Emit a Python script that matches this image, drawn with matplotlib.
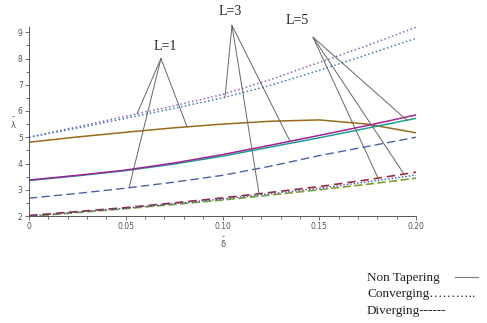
import matplotlib
matplotlib.use("Agg")
import matplotlib.pyplot as plt
import numpy as np
from matplotlib.lines import Line2D
from matplotlib.ticker import MultipleLocator

delta = [0, 0.025, 0.05, 0.075, 0.10, 0.125, 0.15, 0.175, 0.20]

# top dotted pair
lam_purple_dot = [5.0, 5.4, 5.8, 6.2, 6.63, 7.2, 7.85, 8.5, 9.19]
lam_blue_dot = [5.0, 5.35, 5.72, 6.1, 6.5, 6.98, 7.55, 8.15, 8.77]
# brown solid
lam_brown = [4.81, 5.01, 5.19, 5.36, 5.5, 5.61, 5.66, 5.5, 5.17]
# magenta / teal solid
lam_magenta = [3.37, 3.55, 3.75, 4.02, 4.34, 4.7, 5.07, 5.45, 5.85]
lam_teal = [3.35, 3.53, 3.73, 3.98, 4.28, 4.63, 4.98, 5.35, 5.72]
# navy dashed
lam_navy = [2.68, 2.86, 3.06, 3.29, 3.55, 3.9, 4.3, 4.65, 5.0]
# bottom group
lam_red = [2.02, 2.17, 2.32, 2.5, 2.69, 2.9, 3.12, 3.38, 3.67]
lam_blue_low = [2.0, 2.15, 2.3, 2.47, 2.65, 2.85, 3.06, 3.3, 3.56]
lam_green = [1.98, 2.13, 2.28, 2.44, 2.61, 2.8, 3.0, 3.21, 3.44]

xticks = [0, 0.05, 0.10, 0.15, 0.20]
xticklabels = ["0", "0.05", "0.10", "0.15", "0.20"]
yticks = [2, 3, 4, 5, 6, 7, 8, 9]

legend_lines = ["Non Tapering", "Converging\u2026\u2026\u2026..", "Diverging------"]

fig = plt.figure(figsize=(4.87, 3.23), dpi=100)
ax = fig.add_axes([29/487, 107/323, 387/487, 189/323])

ax.plot(delta, lam_purple_dot, color="#8c62c0", ls=(0, (1, 1.6)), lw=1.1)
ax.plot(delta, lam_blue_dot, color="#3f7ab8", ls=(0, (1, 1.6)), lw=1.1)
ax.plot(delta, lam_brown, color="#9a6a1c", lw=1.1)
ax.plot(delta, lam_teal, color="#1f9e8e", lw=1.1)
ax.plot(delta, lam_magenta, color="#a0229a", lw=1.1)
ax.plot(delta, lam_navy, color="#4a62a6", ls=(0, (6, 3)), lw=1.0)
ax.plot(delta, lam_green, color="#7ea030", ls=(0, (5, 2)), lw=1.2)
ax.plot(delta, lam_red, color="#a02a3a", ls=(0, (5, 3)), lw=1.2)
ax.plot(delta, lam_blue_low, color="#2f4fc0", ls=(0, (1, 1.5)), lw=1.0)

ax.set_xlim(0, 0.2)
ax.set_ylim(2, 9.2)
ax.set_xticks(xticks)
ax.set_xticklabels(xticklabels)
ax.set_yticks(yticks)
ax.xaxis.set_minor_locator(MultipleLocator(0.01))
ax.yaxis.set_minor_locator(MultipleLocator(0.5))
ax.tick_params(which="both", direction="out", labelsize=5.5, labelcolor="#555555",
               color="#555555", width=0.6, pad=1.5)
ax.tick_params(which="major", length=3)
ax.tick_params(which="minor", length=2)
for s in ["top", "right"]:
    ax.spines[s].set_visible(False)
for s in ["left", "bottom"]:
    ax.spines[s].set_color("#555555")
    ax.spines[s].set_linewidth(0.7)

# L labels with leader lines (text pos, apex, targets on curves)
groups = [
    ("L=1", (0.0703, 8.2), (0.0682, 8.0),
     [(0.0558, lam_purple_dot), (0.0517, lam_navy), (0.0817, lam_brown)]),
    ("L=3", (0.1039, 9.53), (0.1049, 9.26),
     [(0.1013, lam_blue_dot), (0.1189, lam_red), (0.1349, lam_magenta)]),
    ("L=5", (0.1385, 9.19), (0.1468, 8.81),
     [(0.1953, lam_teal), (0.1804, lam_red), (0.1938, lam_red)]),
]
for label, tpos, apex, targets in groups:
    ax.text(tpos[0], tpos[1], label, family="Liberation Serif", fontsize=10,
            color="#222222", ha="center", va="bottom", clip_on=False)
    for tx, series in targets:
        ty = np.interp(tx, delta, series)
        ax.annotate("", xy=(tx, ty), xytext=apex, annotation_clip=False,
                    arrowprops=dict(arrowstyle="-", color="#666666", lw=0.7,
                                    shrinkA=0, shrinkB=0))

# axis labels (barred symbols)
fig.text(13/487, 1 - 121/323, "-\n\u03bb", fontsize=6, color="#555555",
         ha="center", va="center", linespacing=0.9)
fig.text(223/487, 1 - 241/323, "-\n\u03b4", fontsize=6, color="#555555",
         ha="center", va="center", linespacing=0.85)

# text legend
for i, t in enumerate(legend_lines):
    fig.text(367/487, 1 - (278 + 16.5*i)/323, t, family="Liberation Serif",
             fontsize=9.5, color="#222222", ha="left", va="center")
fig.add_artist(Line2D([455/487, 478/487], [1 - 277/323, 1 - 277/323],
                      color="#777777", lw=0.8, transform=fig.transFigure))

fig.savefig("out.png", dpi=100)
